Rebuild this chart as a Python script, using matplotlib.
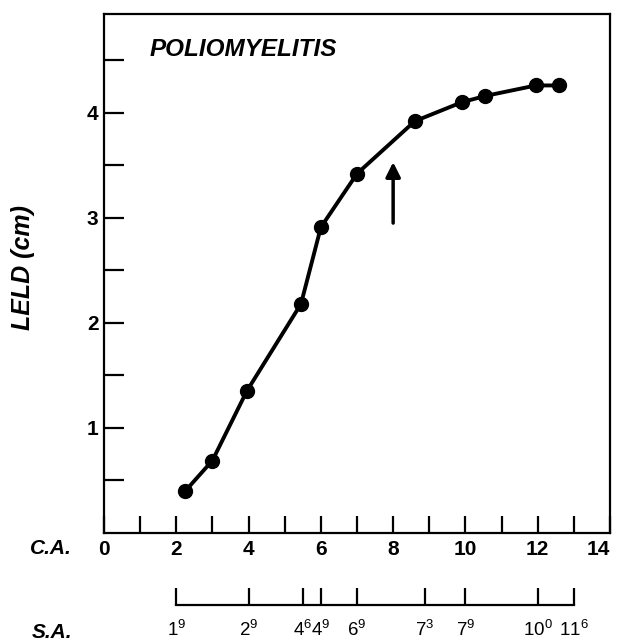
# poliomyelitis LELD vs age
import numpy as np
import matplotlib.pyplot as plt

plt.rcParams['font.family'] = ['Liberation Sans', 'DejaVu Sans']
plt.rcParams['mathtext.fontset'] = 'custom'
plt.rcParams['mathtext.rm'] = 'Liberation Sans'

# data (C.A. in years, LELD in cm)
ca_age = [2.25, 3.0, 3.95, 5.45, 6.0, 7.0, 8.6, 9.9, 10.55, 11.95, 12.6]
leld = [0.40, 0.69, 1.35, 2.18, 2.91, 3.42, 3.92, 4.10, 4.16, 4.26, 4.26]

# skeletal age scale, placed under chronological age
sa_pos = [2, 4, 5.5, 6, 7, 8.87, 10, 12, 13]
sa_labels = ['1^{9}', '2^{9}', '4^{6}', '4^{9}', '6^{9}', '7^{3}', '7^{9}', '10^{0}', '11^{6}']

arrow_x = 8.0
arrow_from, arrow_to = 2.95, 3.53

W, H = 619, 644
fig = plt.figure(figsize=(W / 100, H / 100), dpi=100)
ax = fig.add_axes([104 / W, 1 - 533 / H, (610 - 104) / W, (533 - 14) / H])

ax.plot(ca_age, leld, color='black', lw=2.8, marker='o', markersize=10,
        solid_joinstyle='round')

ax.annotate('', xy=(arrow_x, arrow_to), xytext=(arrow_x, arrow_from),
            arrowprops=dict(arrowstyle='-|>', color='black', lw=2.5,
                            mutation_scale=22, shrinkA=0, shrinkB=0))

ax.text(1.27, 4.6, 'POLIOMYELITIS', fontsize=17.5, fontweight='bold',
        style='italic', ha='left', va='center')

ax.set_xlim(0, 14)
ax.set_ylim(0, 4.94)
ax.set_xticks(np.arange(0, 15, 2))
ax.set_xticks(np.arange(1, 14, 2), minor=True)
ax.set_yticks([1, 2, 3, 4])
ax.set_yticks(np.arange(0.5, 5, 1), minor=True)

for s in ax.spines.values():
    s.set_linewidth(1.6)

ax.tick_params(axis='x', which='both', direction='in', length=12, width=1.6,
               labelsize=15, pad=5)
ax.tick_params(axis='y', which='both', direction='in', length=14.4, width=1.6,
               labelsize=15, pad=4)
for lab in ax.get_yticklabels() + ax.get_xticklabels():
    lab.set_fontweight('bold')
# keep "14" inside the picture, as in the original
ax.get_xticklabels()[-1].set_horizontalalignment('right')

# S.A. axis
sa = fig.add_axes([104 / W, 1 - 605 / H, (610 - 104) / W, 0.03])
sa.set_xlim(0, 14)
sa.patch.set_visible(False)
for side in ['left', 'right', 'top']:
    sa.spines[side].set_visible(False)
sa.spines['bottom'].set_linewidth(1.6)
sa.spines['bottom'].set_bounds(sa_pos[0], sa_pos[-1])
sa.set_yticks([])
sa.set_xticks(sa_pos)
sa.set_xticklabels([r'$\mathregular{' + l + '}$' for l in sa_labels])
sa.tick_params(axis='x', direction='in', length=12, width=1.6,
               labelsize=13.5, pad=10.5)

fig.text(72 / W, 1 - 549 / H, 'C.A.', fontsize=15, fontweight='bold',
         style='italic', ha='right', va='center')
fig.text(72 / W, 1 - 632 / H, 'S.A.', fontsize=15, fontweight='bold',
         style='italic', ha='right', va='center')
fig.text(23 / W, 1 - 267 / H, 'LELD (cm)', fontsize=18, fontweight='bold',
         style='italic', rotation=90, ha='center', va='center')

fig.savefig('out.png', dpi=100)
